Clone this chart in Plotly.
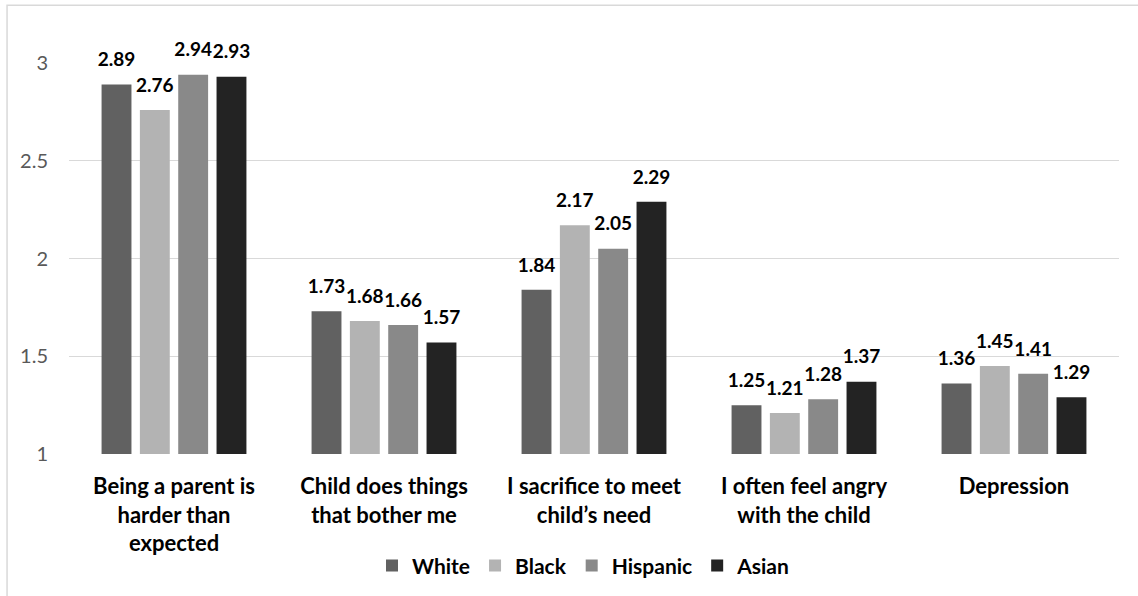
import plotly.graph_objects as go

# Survey items (x categories) and mean scores by group
categories = [
    "Being a parent is<br>harder than<br>expected",
    "Child does things<br>that bother me",
    "I sacrifice to meet<br>child’s need",
    "I often feel angry<br>with the child",
    "Depression",
]
groups = ["White", "Black", "Hispanic", "Asian"]
white = [2.89, 1.73, 1.84, 1.25, 1.36]
black = [2.76, 1.68, 2.17, 1.21, 1.45]
hispanic = [2.94, 1.66, 2.05, 1.28, 1.41]
asian = [2.93, 1.57, 2.29, 1.37, 1.29]
y_ticks = [1, 1.5, 2, 2.5, 3]
y_tick_labels = ["1", "1.5", "2", "2.5", "3"]

series = [white, black, hispanic, asian]
colors = ["#616161", "#b3b3b3", "#898989", "#232323"]
FONT = "Lato"
GAP = 0.27

fig = go.Figure()
for name, vals, col in zip(groups, series, colors):
    fig.add_trace(go.Bar(
        x=categories, y=vals, name=name,
        marker=dict(color=col, line=dict(width=0)),
    ))

# Value labels, laid out in the same groups as the bars
for name, vals in zip(groups, series):
    fig.add_trace(go.Scatter(
        x=categories, y=vals, name=name, showlegend=False,
        mode="markers+text", marker=dict(size=20, opacity=0),
        text=[f"{v:.2f}" for v in vals], textposition="top center",
        textfont=dict(family=FONT, size=19, color="#000000", weight="bold"),
        cliponaxis=False, hoverinfo="skip",
    ))

fig.update_layout(
    width=1138, height=596,
    margin=dict(l=69, r=19, t=63, b=142, autoexpand=False),
    paper_bgcolor="white", plot_bgcolor="white",
    barmode="group", bargap=GAP, bargroupgap=0.22,
    scattermode="group", scattergap=GAP,
    font=dict(family=FONT),
    showlegend=True,
    legend=dict(
        orientation="h", x=0.49, xanchor="center", y=-0.286, yanchor="middle",
        font=dict(family=FONT, size=21, color="#000000", weight="bold"),
        traceorder="normal", itemwidth=30,
    ),
    xaxis=dict(
        showgrid=False, showline=False, ticks="", automargin=False,
        ticklabelstandoff=17,
        tickfont=dict(family=FONT, size=22, color="#000000", weight="bold"),
    ),
    yaxis=dict(
        range=[1, 3], tickvals=y_ticks, ticktext=y_tick_labels,
        showgrid=True, gridcolor="#d9d9d9", gridwidth=1,
        zeroline=False, showline=False, automargin=False,
        ticks="outside", ticklen=16, tickcolor="rgba(0,0,0,0)",
        tickfont=dict(family=FONT, size=20, color="#595959"),
    ),
    shapes=[dict(
        type="rect", xref="paper", yref="paper",
        x0=-0.059, x1=1.03, y0=-0.42, y1=1.148,
        line=dict(color="#d9d9d9", width=1.5), fillcolor="rgba(0,0,0,0)",
        layer="below",
    )],
)

fig.write_html("out.html")
